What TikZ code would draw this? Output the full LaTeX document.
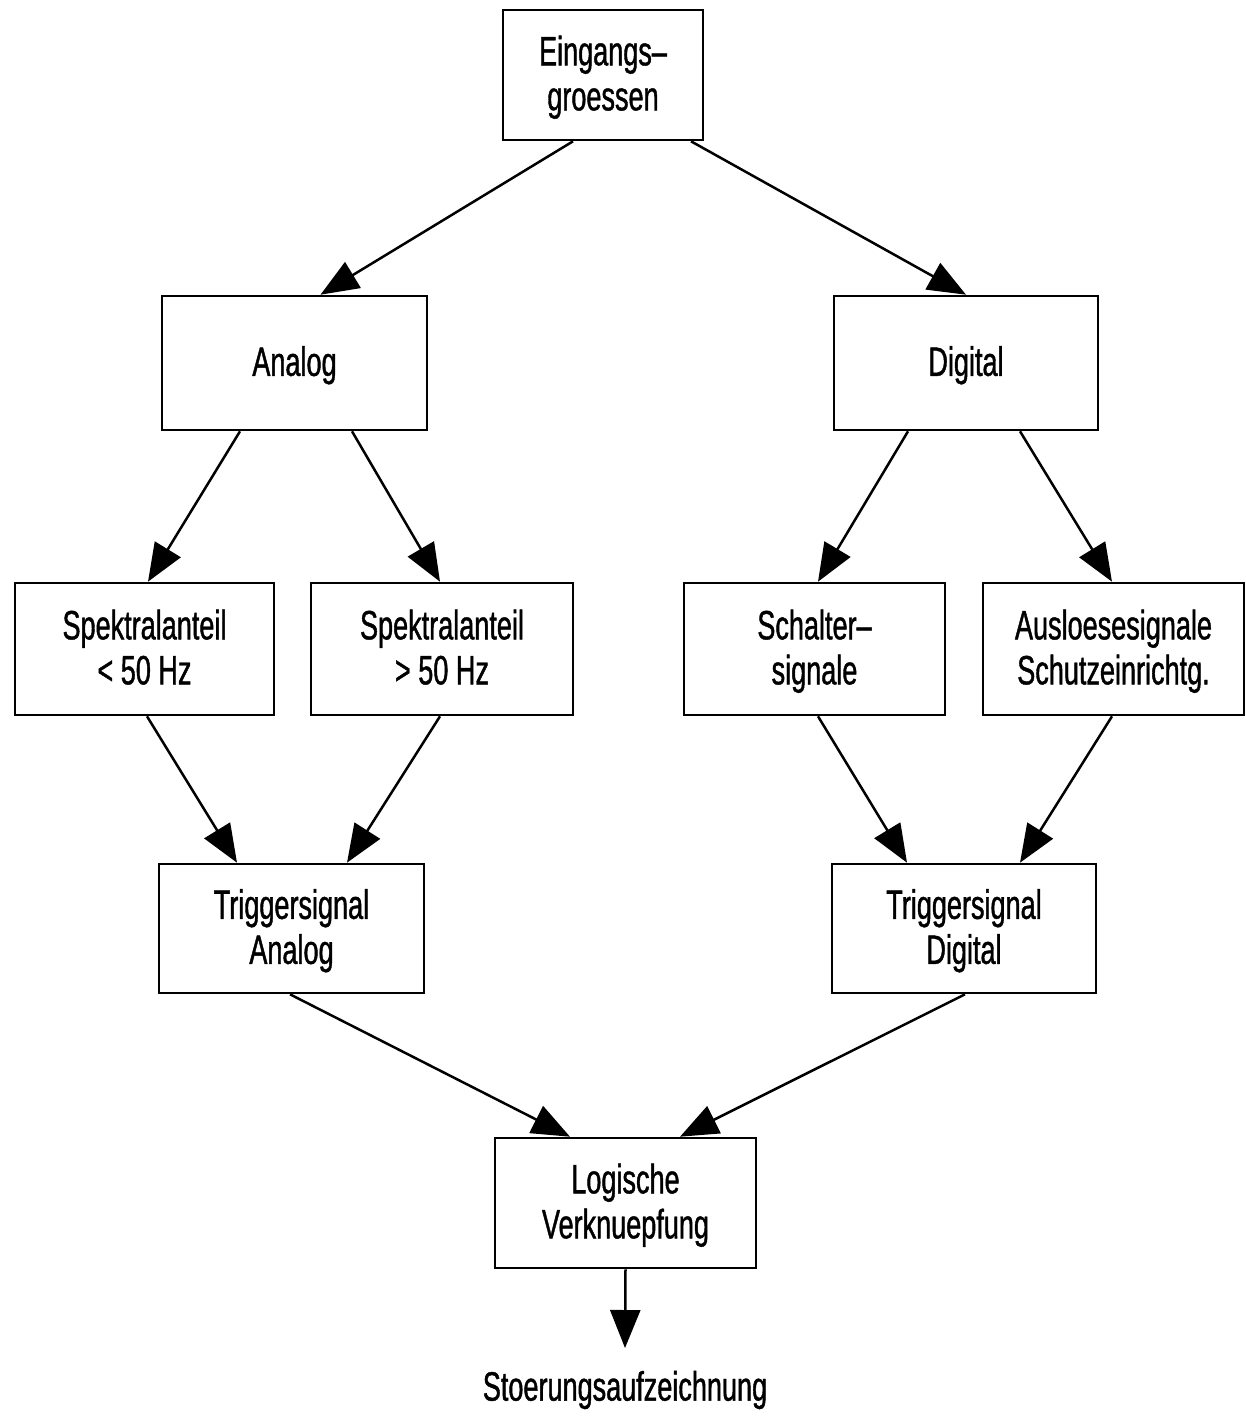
\documentclass[tikz,border=0pt]{standalone}
\usepackage{fontspec}
\setmainfont{Liberation Sans}[FakeStretch=0.66,FakeBold=1]
\usetikzlibrary{arrows.meta}
\begin{document}
\begin{tikzpicture}[x=1pt,y=-1pt,
  box/.style={draw,line width=2.6pt,rectangle,inner sep=0pt,align=center,
    text depth=4pt,font=\fontsize{41}{45}\selectfont},
  link/.style={line width=2.5pt,-{Triangle[length=38pt,width=30pt]}}]
\useasboundingbox (0,0) rectangle (1246,1418);
% boxes
\node[box,minimum width=200pt,minimum height=130pt] (E) at (603,75) {Eingangs--\\groessen};
\node[box,minimum width=265pt,minimum height=134pt] (A) at (294.5,363) {Analog};
\node[box,minimum width=264pt,minimum height=134pt] (D) at (966,363) {Digital};
\node[box,minimum width=259pt,minimum height=132pt] (S1) at (144.5,649) {Spektralanteil\\< 50 Hz};
\node[box,minimum width=262pt,minimum height=132pt] (S2) at (442,649) {Spektralanteil\\> 50 Hz};
\node[box,minimum width=261pt,minimum height=132pt] (Sch) at (814.5,649) {Schalter--\\signale};
\node[box,minimum width=261pt,minimum height=132pt] (Aus) at (1113.5,649) {Ausloesesignale\\Schutzeinrichtg.};
\node[box,minimum width=265pt,minimum height=129pt] (TA) at (291.5,928.5) {Triggersignal\\Analog};
\node[box,minimum width=264pt,minimum height=129pt] (TD) at (964,928.5) {Triggersignal\\Digital};
\node[box,minimum width=261pt,minimum height=130pt] (L) at (625.5,1203) {Logische\\Verknuepfung};
\node[font=\fontsize{41}{45}\selectfont,inner sep=0pt] (St) at (625,1390) {Stoerungsaufzeichnung};
\coordinate (Sttop) at (625,1348);
% connectors
\draw[link] ([xshift=-30pt]E.south) -- ([xshift=26pt]A.north);
\draw[link] ([xshift=88pt]E.south) -- ([xshift=0pt]D.north);
\draw[link] ([xshift=-54.5pt]A.south) -- ([xshift=3.5pt]S1.north);
\draw[link] ([xshift=57.5pt]A.south) -- ([xshift=-2pt]S2.north);
\draw[link] ([xshift=-58pt]D.south) -- ([xshift=3.5pt]Sch.north);
\draw[link] ([xshift=54pt]D.south) -- ([xshift=-1.5pt]Aus.north);
\draw[link] ([xshift=2.5pt]S1.south) -- ([xshift=-54.5pt]TA.north);
\draw[link] ([xshift=-2pt]S2.south) -- ([xshift=55.5pt]TA.north);
\draw[link] ([xshift=3.5pt]Sch.south) -- ([xshift=-57pt]TD.north);
\draw[link] ([xshift=-1.5pt]Aus.south) -- ([xshift=56pt]TD.north);
\draw[link] ([xshift=-1.5pt]TA.south) -- ([xshift=-55.5pt]L.north);
\draw[link] ([xshift=1pt]TD.south) -- ([xshift=54.5pt]L.north);
\draw[link] (L.south) -- (Sttop);
\end{tikzpicture}
\end{document}
